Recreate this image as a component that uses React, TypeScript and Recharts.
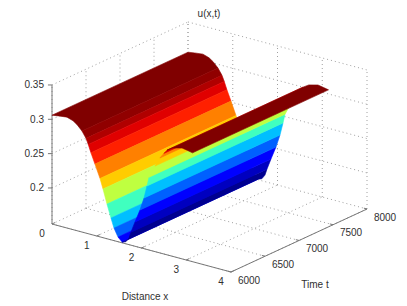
import { ScatterChart, Scatter, XAxis, YAxis } from 'recharts';

// cross-section of the surface, u does not change along t
const profileX = [0, 0.15, 0.335, 0.47, 0.56, 0.67, 0.76, 0.81, 0.87, 0.96, 1.073, 1.14, 1.229, 1.318, 1.385, 1.475, 1.57, 1.65, 1.72, 1.765, 1.855, 1.966, 2.056, 2.123, 2.168, 2.23, 2.3, 2.41, 2.5, 2.57, 2.7, 2.905, 3.03, 3.14];
const profileU = [0.306, 0.3075, 0.309, 0.306, 0.302, 0.2946, 0.2855, 0.2775, 0.2665, 0.2515, 0.2325, 0.2184, 0.198, 0.1792, 0.1658, 0.1543, 0.1485, 0.1505, 0.157, 0.1665, 0.1829, 0.2022, 0.2213, 0.24, 0.2535, 0.262, 0.272, 0.2857, 0.294, 0.3, 0.3055, 0.309, 0.3075, 0.306];
const stripColors = [
    '#800000', '#800000', '#800000', '#800000', '#800000',
    '#900000', '#b00000', '#e00000', '#ff2000', '#ff8000', '#ffcc00', '#bfff40', '#40ffbf', '#00bfff', '#0060ff', '#0000ff',
    '#000090', '#000090', '#000090', '#0000c0', '#0000ff', '#0060ff', '#00bfff', '#40ffbf', '#bfff40', '#bfff40',
    '#ffcc00', '#ff8000', '#e00000', '#800000', '#800000', '#800000', '#800000',
];

const xTicks = [0, 1, 2, 3, 4];
const tTicks = [6000, 6500, 7000, 7500, 8000];
const zTicks = [0.2, 0.25, 0.3, 0.35];
const zTickLabels = ['0.2', '0.25', '0.3', '0.35'];

const T_MIN = 6000;
const T_MAX = 8000;
const Z_MIN = 0.1475;
const Z_MAX = 0.35;

const AXIS_COLOR = '#787878';
const GRID_COLOR = '#a0a0a0';
const TEXT_COLOR = '#303030';

// fixed MATLAB style view of the axes box
function project(x: number, t: number, z: number) {
    return {
        px: 52 + x * 44.75 + (t - T_MIN) * 0.068,
        py: 224 + x * 12 - (t - T_MIN) * 0.0315 - (z - Z_MIN) * 686.6,
    };
}

// neighbouring strips of one colour become one polygon, so no seams show inside a band
const bands: { color: string; from: number; to: number }[] = [];
stripColors.forEach((color, i) => {
    const last = bands[bands.length - 1];
    if (last && last.color === color) last.to = i + 1;
    else bands.push({ color, from: i, to: i + 1 });
});

const stripData = bands.map(({ color, from, to }) => {
    const near = [];
    const far = [];
    for (let i = from; i <= to; i++) {
        near.push(project(profileX[i], T_MIN, profileU[i]));
        far.unshift(project(profileX[i], T_MAX, profileU[i]));
    }
    return { color, points: [...near, ...far, near[0]] };
});

const gridLines = [
    ...xTicks.map(x => [project(x, T_MIN, Z_MIN), project(x, T_MAX, Z_MIN)]),
    ...tTicks.map(t => [project(0, t, Z_MIN), project(4, t, Z_MIN)]),
    ...xTicks.map(x => [project(x, T_MAX, Z_MIN), project(x, T_MAX, Z_MAX)]),
    ...tTicks.map(t => [project(0, t, Z_MIN), project(0, t, Z_MAX)]),
    ...zTicks.map(z => [project(0, T_MAX, z), project(4, T_MAX, z)]),
    ...zTicks.map(z => [project(0, T_MIN, z), project(0, T_MAX, z)]),
];

const axisLines = [
    [project(0, T_MIN, Z_MIN), project(0, T_MIN, Z_MAX)],
    [project(0, T_MIN, Z_MIN), project(4, T_MIN, Z_MIN)],
    [project(4, T_MIN, Z_MIN), project(4, T_MAX, Z_MIN)],
    ...xTicks.map(x => [project(x, T_MIN, Z_MIN), project(x, T_MIN + 45, Z_MIN)]),
    ...tTicks.map(t => [project(4, t, Z_MIN), project(3.93, t, Z_MIN)]),
    ...zTicks.map(z => [project(0, T_MIN, z), project(-0.057, T_MIN - 22, z)]),
];

const shiftPoint = (p: { px: number; py: number }, dx: number, dy: number, label: string) => ({
    px: p.px + dx,
    py: p.py + dy,
    label,
});

const labelsEnd = zTicks.map((z, i) => shiftPoint(project(0, T_MIN, z), -8, 0, zTickLabels[i]));
const labelsMiddle = [
    ...xTicks.map(x => shiftPoint(project(x, T_MIN, Z_MIN), -10, 9, String(x))),
    ...tTicks.map(t => shiftPoint(project(4, t, Z_MIN), 18, 8, String(t))),
    { px: 145, py: 296, label: 'Distance x' },
    { px: 315, py: 284, label: 'Time t' },
    { px: 209, py: 13, label: 'u(x,t)' },
];

const noDot = () => <g />;

const labelShape = (anchor: 'end' | 'middle') => (p: any) => (
    <text
        x={p.cx}
        y={p.cy}
        textAnchor={anchor}
        dominantBaseline="central"
        fontFamily="'Liberation Sans', Arial, sans-serif"
        fontSize={10}
        fill={TEXT_COLOR}
    >
        {p.payload.label}
    </text>
);

export default function App() {
    return (
        <div style={{ position: 'fixed', left: 0, top: 0, background: '#fff' }}>
            <ScatterChart width={407} height={306} margin={{ top: 0, right: 0, bottom: 0, left: 0 }}>
                <XAxis type="number" dataKey="px" domain={[0, 407]} hide />
                <YAxis type="number" dataKey="py" domain={[0, 306]} reversed hide />
                {gridLines.map((pts, i) => (
                    <Scatter
                        key={`grid-${i}`}
                        data={pts}
                        shape={noDot}
                        line={{ stroke: GRID_COLOR, strokeWidth: 1, strokeDasharray: '1 3' }}
                        isAnimationActive={false}
                    />
                ))}
                {axisLines.map((pts, i) => (
                    <Scatter
                        key={`axis-${i}`}
                        data={pts}
                        shape={noDot}
                        line={{ stroke: AXIS_COLOR, strokeWidth: 1 }}
                        isAnimationActive={false}
                    />
                ))}
                {/* back to front along x, so the raised edge covers the far flank */}
                {stripData.map((strip, i) => (
                    <Scatter
                        key={`strip-${i}`}
                        data={strip.points}
                        shape={noDot}
                        line={{ fill: strip.color, stroke: strip.color, strokeWidth: 0.6 }}
                        isAnimationActive={false}
                    />
                ))}
                <Scatter data={labelsEnd} shape={labelShape('end')} isAnimationActive={false} />
                <Scatter data={labelsMiddle} shape={labelShape('middle')} isAnimationActive={false} />
            </ScatterChart>
        </div>
    );
}
